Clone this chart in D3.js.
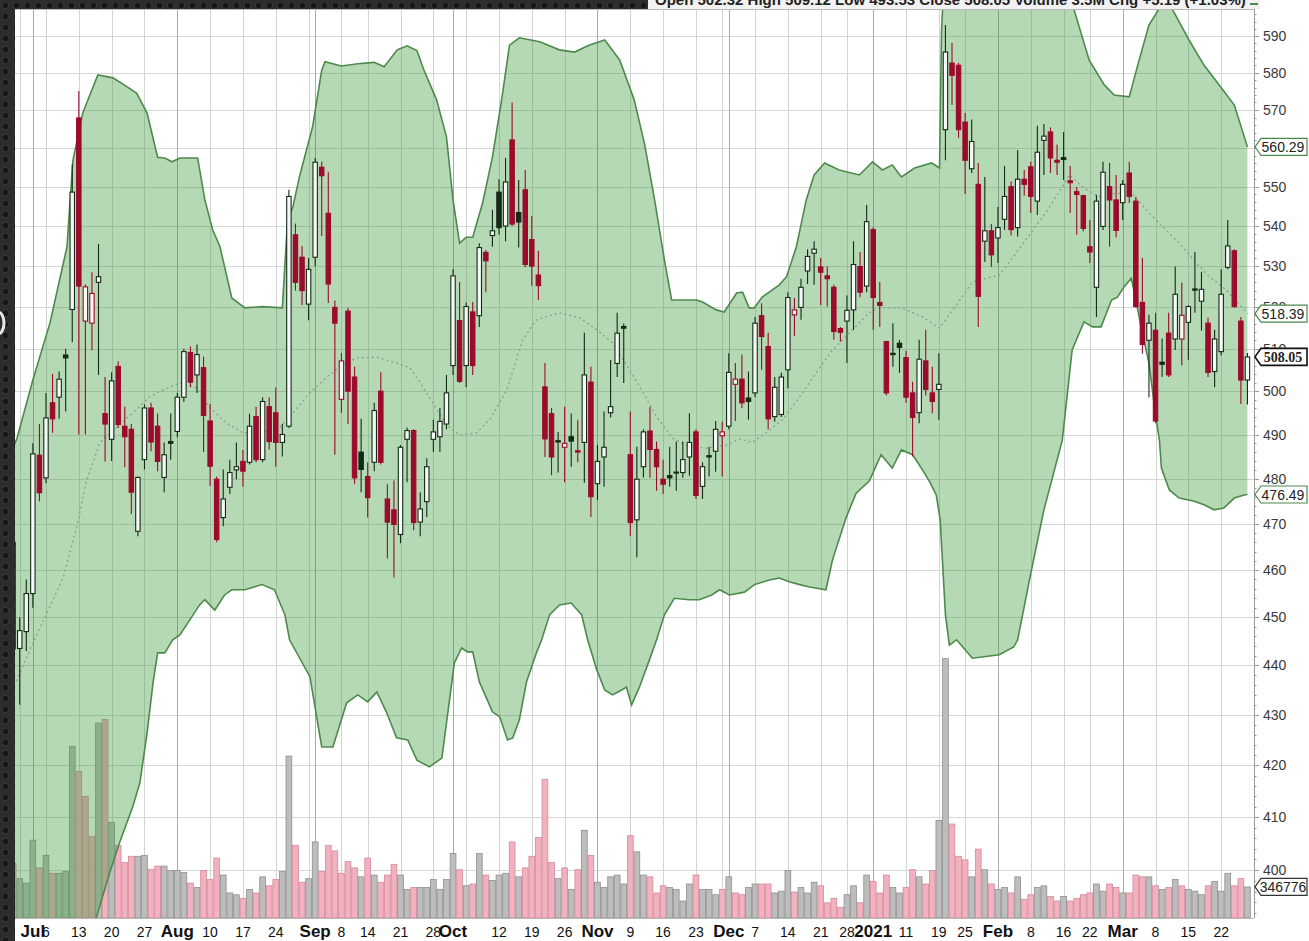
<!DOCTYPE html>
<html>
<head>
<meta charset="utf-8">
<script src="https://cdn.jsdelivr.net/npm/d3@7"></script>
<style>
  html, body { margin: 0; padding: 0; background: #2a2a2a; overflow: hidden; }
  svg { display: block; }
</style>
</head>
<body>
<svg id="chart" width="1309" height="941"></svg>
<script>
// ---- data (NFLX daily, Jun 26 2020 - Mar 26 2021) ----
const holidays = ['2020-07-03', '2020-09-07', '2020-11-26', '2020-12-25', '2021-01-01', '2021-01-18', '2021-02-15'];
const firstDay = '2020-06-26', lastDay = '2021-03-26';
const priorClose = 466.3;

const opens = [
  466, 443.5, 447,
  455, 485.3, 480.2, 497.3, 498.6, 508.5, 519.4, 567.9, 516.6, 516.1,
  526.0, 494.8, 488.9, 505.8, 491.9, 491.2, 468.4, 484.3, 496.1, 491.9,
  480.3, 488.4, 490.7, 498.6, 509.1, 503.8, 505.5, 493.1, 479.9, 471.4,
  478.1, 482.0, 483.9, 483.7, 494.1, 484.3, 496.4, 495.0, 488.2, 491.9,
  537.8, 532.2, 520.7, 532.2, 555.0, 543.2, 519.9, 498.1, 519.0, 503.3,
  486.0, 480.5, 483.7, 500.0, 475.5, 473.1, 467.7, 488.9, 490.9, 470.4,
  474.9, 488.9, 489.5, 492.4, 506.0, 516.7, 506.0, 518.8, 517.9, 533.4,
  537.6, 548.6, 540.0, 562.1, 543.4, 549.2, 536.6, 527.8, 501.0, 494.8,
  488.6, 487.1, 489.5, 486.3, 488.2, 502.1, 478.9, 484.9, 495.0, 506.5,
  515.3, 485.4, 470.9, 482.7, 490.8, 486.6, 479.9, 480.7, 481.5, 481.4,
  484.9, 490.6, 478.3, 485.2, 486.2, 489.7, 491.9, 501.6, 502.8, 498.4,
  499.6, 517.9, 510.5, 494.1, 494.6, 505.0, 518.1, 519.9, 528.8, 533.2,
  529.8, 527.6, 524.8, 514.8, 516.6, 519.3, 529.9, 525.1, 539.1, 521.1,
  511.7, 508.9, 511.3, 507.9, 499.6, 495.0, 507.1, 499.6, 500.4, 564.8,
  582.6, 582.0, 566.8, 554.6, 550.6, 536.2, 538.8, 537.0, 541.7, 550.0,
  539.6, 551.9, 555.1, 546.3, 562.0, 564.2, 556.8, 557.5, 551.5, 548.7,
  547.7, 534.8, 524.8, 539.9, 550.0, 546.6, 545.9, 553.5, 546.3, 521.1,
  512.0, 514.4, 506.8, 513.7, 512.3, 512.3, 516.3, 524.4, 521.4, 516.1,
  504.6, 509.3, 529.7, 533.8, 516.6, 502.6
];
const highs = [
  468, 450, 458,
  488, 492.4, 499.6, 504, 504.6, 510, 555.7, 575.1, 525.5, 528.5,
  535.5, 503.3, 504.4, 507, 496.4, 492.4, 480.5, 496.9, 497.3, 494.8,
  488.2, 494.8, 499.6, 510, 510.5, 511, 508.1, 497, 480.5, 482.1,
  484.3, 488.2, 486.5, 494.8, 496.4, 498.5, 498.6, 500.9, 492.4, 549.2,
  540.6, 535, 532, 557.4, 556.5, 553.7, 521.6, 509, 519.8, 505.7,
  493.6, 483.7, 497.3, 504.4, 478.8, 479.6, 487.6, 491.6, 491.2, 477.0,
  484.6, 493.4, 496.1, 503.8, 529.2, 526.1, 521.1, 521.2, 535.7, 534.0,
  544.1, 551.9, 557.4, 572.0, 551.7, 554.3, 542.5, 533.8, 506.6, 496.1,
  490.6, 496.4, 494.8, 493.4, 513.8, 505.7, 487.6, 495.3, 507.3, 518.6,
  516.0, 495.3, 487.2, 491.2, 496.3, 488.4, 484.3, 487.2, 488.4, 488.4,
  494.9, 491.2, 483.7, 487.2, 493.1, 492.9, 508.9, 506.6, 508.6, 504.6,
  517.6, 520.9, 513.8, 503.3, 504.3, 523.6, 522.2, 526.9, 534.2, 536.2,
  532.0, 529.9, 525.4, 515.2, 522.8, 536.2, 533.5, 545.3, 539.6, 526.1,
  511.9, 516.1, 512.1, 509.5, 502.2, 512.1, 514.5, 505.7, 508.9, 593.0,
  588.1, 582.6, 569.2, 567.5, 556.1, 552.5, 540.5, 544.8, 555.3, 551.3,
  559.5, 554.3, 556.4, 565.8, 566.3, 565.4, 560.9, 564.2, 555.3, 550.0,
  547.9, 541.5, 547.9, 556.4, 556.1, 553.0, 551.7, 556.4, 547.4, 532.0,
  518.1, 518.6, 512.4, 518.6, 529.9, 525.9, 520.5, 533.5, 528.6, 517.4,
  514.5, 529.2, 541.5, 534.2, 517.6, 509.0
];
const lows = [
  441, 432, 443,
  452, 475, 479, 490.4, 493.6, 495.3, 511.5, 490, 490, 509.6,
  503.8, 483.9, 484, 491.5, 482.6, 472.2, 467.3, 482.1, 486.2, 481.7,
  477, 484.3, 489.4, 497.5, 500.9, 499.6, 486, 478.4, 466, 469.5,
  476.6, 479.9, 478.2, 483.2, 483.7, 483.7, 486.6, 482.7, 485.0, 491.5,
  524, 520.5, 516.8, 530, 537.5, 521, 485.4, 495, 492.4, 478.9,
  477, 471.4, 481.7, 483.2, 462.5, 458.4, 465.8, 479.2, 468.6, 467.3,
  471.5, 486, 486.0, 491.2, 503.8, 501.9, 500.9, 503.8, 515.2, 523.6,
  534.8, 537.8, 536.2, 540.0, 534.6, 529.7, 525.2, 521.7, 484.9, 480.8,
  481.4, 479.2, 482.7, 483.7, 479.1, 471.5, 475.3, 478.2, 493.9, 503.3,
  501.9, 467.3, 462.7, 480.3, 480.2, 477.3, 476.6, 478.2, 477.3, 480.2,
  480.7, 475.5, 475.5, 480.5, 481.6, 480.5, 491.2, 493.1, 496.1, 493.4,
  498.6, 505.0, 491.2, 492.9, 494.0, 500.7, 513.1, 516.9, 525.6, 525.4,
  520.5, 520.1, 512.1, 511.7, 506.6, 514.5, 522.4, 523.6, 514.5, 515.2,
  499.0, 505.7, 504.3, 497.3, 485.0, 492.6, 499.0, 494.9, 493.4, 556.8,
  571.3, 562.7, 548.1, 553.5, 515.2, 531.0, 529.8, 530.8, 539.0, 537.6,
  537.4, 547.7, 543.3, 542.8, 553.0, 553.5, 553.0, 551.7, 543.3, 537.8,
  538.6, 530.8, 517.6, 539.0, 534.8, 537.2, 541.5, 545.8, 519.8, 508.8,
  498.6, 492.6, 503.3, 503.3, 509.7, 506.1, 507.4, 518.6, 514.3, 503.3,
  500.9, 508.4, 529.2, 519.8, 497.0, 496.9
];
const closes = [
  443.4, 447.2, 455.0,
  485.6, 476.9, 493.8, 493.6, 502.8, 507.8, 548.6, 525.1, 524.9, 523.3,
  527.4, 492.4, 502.4, 492.3, 489.5, 477.0, 480.3, 496.1, 488.3, 483.9,
  485.4, 488.0, 498.6, 509.3, 502.1, 508.6, 494.4, 482.8, 466.6, 475.5,
  481.4, 482.7, 481.7, 491.9, 484.3, 497.6, 488.4, 488.2, 490.0, 547.5,
  526.0, 524.0, 529.2, 556.3, 552.8, 525.6, 516.1, 507.1, 500.0, 480.2,
  482.1, 475.8, 495.5, 483.7, 470.4, 469.9, 487.1, 490.9, 470.3, 473.3,
  482.7, 490.6, 493.0, 499.6, 527.6, 502.3, 520.1, 506.0, 534.6, 531.3,
  538.8, 539.6, 551.2, 540.5, 541.0, 530.4, 530.0, 525.2, 489.0, 484.9,
  488.3, 488.0, 488.5, 486.0, 503.8, 476.0, 483.9, 487.1, 496.4, 513.7,
  514.9, 470.3, 479.9, 490.6, 486.6, 482.7, 478.8, 480.2, 481.3, 484.3,
  488.2, 476.3, 482.7, 484.9, 491.2, 490.6, 504.4, 502.8, 497.3, 497.6,
  516.1, 512.9, 493.6, 500.9, 503.3, 522.3, 519.3, 524.8, 532.4, 534.2,
  528.5, 526.9, 514.1, 513.9, 519.2, 530.4, 523.6, 541.1, 522.3, 520.4,
  499.6, 508.6, 510.3, 498.6, 493.9, 507.5, 500.4, 497.6, 501.6, 585.6,
  579.3, 564.8, 556.8, 561.7, 522.6, 538.8, 532.8, 539.6, 547.5, 539.1,
  551.9, 550.6, 547.5, 558.9, 563.1, 557.4, 556.3, 557.0, 551.0, 548.0,
  539.4, 533.5, 546.3, 553.7, 546.6, 538.9, 550.6, 547.5, 520.1, 511.0,
  516.1, 493.1, 506.3, 503.8, 523.1, 518.0, 520.1, 524.1, 524.3, 504.4,
  512.3, 523.1, 535.0, 520.1, 502.6, 508.05
];
// volume in millions of shares
const volumes = [
  6.1, 4.4, 3.9,
  8.7, 5.6, 7.0, 5.0, 5.0, 5.2, 19.2, 16.4, 13.6, 9.1,
  21.8, 22.2, 10.7, 8.1, 6.2, 6.9, 6.9, 7.0, 5.4, 5.8,
  5.8, 5.3, 5.3, 5.1, 3.9, 3.4, 5.3, 4.3, 6.7, 4.8,
  2.8, 2.6, 2.2, 3.2, 2.8, 4.6, 3.6, 4.3, 5.2, 18.1,
  8.1, 4.0, 4.4, 8.5, 5.2, 8.1, 7.5, 5.0, 6.3, 5.6,
  4.6, 6.7, 4.8, 4.0, 4.8, 6.0, 4.8, 3.2, 3.4, 3.4,
  3.4, 4.3, 3.2, 4.3, 7.2, 5.4, 3.6, 3.8, 7.2, 4.8,
  4.2, 4.8, 5.0, 8.5, 4.6, 5.6, 6.9, 9.0, 15.5, 6.2,
  4.4, 5.6, 3.2, 5.4, 9.8, 7.0, 4.0, 3.4, 4.6, 4.8,
  3.8, 9.2, 7.4, 4.8, 4.6, 2.8, 3.6, 3.4, 3.2, 1.9,
  3.8, 4.8, 3.2, 3.2, 2.6, 3.2, 4.6, 2.8, 2.6, 3.4,
  3.8, 3.8, 3.8, 2.8, 3.0, 5.3, 2.9, 3.4, 2.8, 4.0,
  3.6, 1.7, 2.2, 1.2, 2.6, 3.6, 1.7, 4.8, 4.1, 2.8,
  4.8, 3.4, 2.8, 3.4, 5.4, 4.6, 3.8, 5.3, 10.9, 29.0,
  10.5, 6.9, 6.5, 4.6, 7.7, 5.4, 3.8, 3.2, 3.4, 2.8,
  4.6, 2.1, 2.6, 3.4, 3.6, 2.4, 1.9, 2.4, 1.9, 2.2,
  2.6, 2.8, 3.8, 3.0, 3.8, 3.4, 2.8, 2.8, 4.8, 4.6,
  4.6, 3.6, 3.2, 3.4, 4.3, 3.6, 3.2, 3.0, 2.6, 3.6,
  4.1, 3.0, 5.0, 3.6, 4.4, 3.47
];

// Bollinger bands (20, 2) as [sessions since Jul 1, price]
const upperBand = [
  [-3, 487], [-2.4, 489.2], [0, 502.6], [2.6, 516.1], [5.2, 534.8], [6.1, 556.8], [7.6, 569.2],
  [9.9, 579.4], [12.2, 578.6], [13.2, 577.5], [15.8, 574.5], [17.4, 569.2], [19, 557.6], [20.1, 557.4],
  [21.2, 556.4], [22.4, 557.4], [25.1, 557.4], [26.2, 546.6], [27.4, 539.0], [28.5, 534.8], [30.3, 522.2],
  [32.3, 519.8], [35, 520.1], [38, 519.8], [38.8, 541.5], [39.6, 544.8], [40.6, 552.5], [42.6, 565.5],
  [44, 580.7], [44.5, 583], [47, 581.8], [49.5, 582.4], [52, 582.8], [53.5, 581.6], [55.5, 586.2],
  [57, 587.3], [58.5, 586], [59.5, 581], [61.5, 572.7], [63, 562.9], [64, 546.6], [65, 535.7],
  [66, 537.2], [67, 537.2], [68.5, 545.8], [70, 557.6], [71.4, 572.7], [72.6, 587.5], [74.1, 589.5],
  [77.2, 588.4], [80.2, 586.2], [82.5, 585.6], [84.8, 587.5], [87.1, 588.9], [89.4, 583.4], [91.6, 572.7],
  [93.2, 560.8], [94.7, 546.6], [96.2, 531.5], [97.3, 521.7], [101.1, 521.7], [102, 521.2], [104.1, 519.3],
  [105.3, 518.8], [107.2, 523.4], [108.1, 523.6], [109.1, 519.8], [109.9, 519.8], [111.1, 522.4],
  [113.7, 525.4], [114.8, 527.4], [116.3, 534.8], [117.8, 546.6], [119, 553.0], [120.6, 556.1],
  [122.8, 554.3], [125.9, 553.0], [127.9, 556.4], [129.4, 554.3], [130.9, 555.6], [132.3, 552.5],
  [134.3, 554.8], [136.9, 556.1], [138.1, 554.8], [138.4, 591], [139, 615], [158, 615], [158.6, 597.2],
  [160.9, 583.4], [163.2, 576.7], [164.7, 574.0], [167, 573.5], [168.5, 583.4], [170, 593], [171.6, 597.7],
  [172.3, 601], [173.8, 596.6], [176.1, 588.9], [178.4, 582], [180.7, 576.7], [183, 571.3], [185, 560.29]
];
const lowerBand = [
  [-3, 350], [4, 372], [9.7, 391.4], [11.7, 399.5], [13.2, 405.1], [15.2, 411.9], [16.3, 416.6],
  [17.4, 426.4], [18.3, 436.4], [19, 442.6], [20.1, 442.6], [21.3, 445.3], [22.4, 446.3], [25.4, 452.6],
  [26.2, 453.7], [27.7, 451.5], [29.2, 454.7], [30.3, 455.8], [32.3, 455.8], [34.9, 456.9], [36.8, 455.8],
  [38.4, 450.5], [39.1, 445.3], [42.2, 437.7], [44, 423.6], [45.7, 423.6], [47.8, 432.4], [49.5, 434.0],
  [51, 432.6], [52.4, 434.6], [53.9, 430.4], [55.4, 425.4], [57.1, 425.0], [58.5, 421.0], [60.4, 419.7],
  [62.3, 421.4], [64.2, 440.5], [65.3, 443.6], [66.2, 442.8], [67, 442.8], [68, 436.7], [70, 430.6],
  [71.1, 429.6], [72.3, 425.0], [73.1, 425.4], [74.1, 429.0], [75.2, 436.7], [76.7, 442.6], [77.5, 445.3],
  [78.7, 450.5], [80.2, 452.6], [82, 453.0], [83.6, 450.5], [84.5, 445.3], [85.9, 439.1], [87.1, 435.0],
  [88.3, 434.0], [89.7, 435.0], [90.4, 435.6], [91.2, 432.0], [92.4, 435.6], [93.9, 441.1], [95, 445.3],
  [96.2, 450.5], [97.7, 454.0], [100, 453.7], [101.5, 453.7], [103.4, 454.7], [104.6, 455.8], [106.1, 454.7],
  [108.4, 455.3], [109.9, 456.9], [112.2, 457.9], [113.7, 458.3], [115.2, 457.5], [116.8, 456.9],
  [118.3, 456.4], [120.8, 455.8], [121.8, 462.2], [123.9, 471.5], [125.4, 476.8], [127.4, 479.5],
  [129.2, 485.4], [130.9, 482.4], [132.3, 486.5], [134, 485.4], [135.5, 482.0], [136.6, 479.3],
  [137.6, 476.4], [138.2, 470.9], [139, 450.5], [139.6, 444.2], [140.7, 445.3], [143.1, 441.5],
  [147.2, 442.2], [149.4, 443.8], [150, 445.3], [151.8, 457.9], [154, 473.1], [156.8, 488.7], [158.3, 509.7],
  [160.1, 516.4], [161.4, 515.2], [162.7, 515.2], [164.3, 521.7], [165.2, 522.4], [166.2, 524.9],
  [167.3, 527.0], [167.8, 523.4], [168.8, 515.2], [170, 506.6], [171.1, 493.4], [171.6, 488.7],
  [171.9, 482.4], [173.1, 477.5], [174.6, 475.7], [176.9, 475.0], [178.4, 474.2], [179.9, 473.1],
  [181.4, 473.5], [183, 475.7], [184.5, 476.4], [185, 476.49]
];
const midBand = [
  [-3, 436], [-2.4, 437.1], [0, 444.6], [4.6, 458.3], [6.7, 469.4], [8.2, 479.7], [10.2, 488.1],
  [12.8, 491.7], [15.2, 494.9], [17.8, 498.7], [19.8, 500.3], [22.4, 501.9], [25, 500.7], [26.9, 496.3],
  [29.5, 492.6], [32, 490.4], [35, 490.4], [37.6, 491.7], [39.6, 494.9], [42.2, 499.6], [44.8, 503.3],
  [46.7, 505.7], [49.3, 507.8], [52.4, 508.0], [55.4, 506.6], [57.4, 505.5], [58.9, 502.2], [60.9, 497.3],
  [63, 492.2], [65, 489.9], [67.6, 490.4], [69.6, 493.4], [72.2, 500.3], [74.6, 512.1], [76.7, 516.9],
  [80.2, 518.6], [83.3, 517.4], [85.9, 514.5], [88.3, 511.4], [90.9, 505.0], [92.9, 499.8], [95, 494.1],
  [97.4, 489.2], [100, 487.2], [102.6, 486.9], [105.6, 487.6], [107.6, 489.0], [109.6, 488.2],
  [111.7, 490.4], [114.2, 493.4], [116.8, 498.7], [119.3, 504.3], [121.8, 509.7], [124.4, 513.8],
  [127.4, 518.6], [129, 519.8], [132.4, 519.8], [135.5, 517.6], [138.1, 514.9], [140.7, 520.5],
  [143.1, 526.1], [145.2, 527.0], [147.2, 527.8], [149.2, 532.0], [151.8, 537.8], [154.4, 543.6],
  [156.3, 548.6], [157.9, 553.0], [159.8, 550.0], [162.4, 547.4], [165, 548.3], [167.4, 548.3],
  [170, 543.3], [172.6, 539.0], [175.1, 534.8], [177.2, 530.8], [179.2, 527.4], [181.8, 524.1], [185, 518.39]
];

const priceTicks = [400, 410, 420, 430, 440, 450, 460, 470, 480, 490, 500, 510, 520, 530, 540, 550, 560, 570, 580, 590];
const dateLabels = [
  ['2020-07-01', 'Jul', true], ['2020-07-06', '6'], ['2020-07-13', '13'], ['2020-07-20', '20'], ['2020-07-27', '27'],
  ['2020-08-03', 'Aug', true], ['2020-08-10', '10'], ['2020-08-17', '17'], ['2020-08-24', '24'],
  ['2020-09-01', 'Sep', true], ['2020-09-08', '8'], ['2020-09-14', '14'], ['2020-09-21', '21'], ['2020-09-28', '28'],
  ['2020-10-01', 'Oct', true], ['2020-10-12', '12'], ['2020-10-19', '19'], ['2020-10-26', '26'],
  ['2020-11-02', 'Nov', true], ['2020-11-09', '9'], ['2020-11-16', '16'], ['2020-11-23', '23'],
  ['2020-12-01', 'Dec', true], ['2020-12-07', '7'], ['2020-12-14', '14'], ['2020-12-21', '21'], ['2020-12-28', '28'],
  ['2021-01-04', '2021', true], ['2021-01-11', '11'], ['2021-01-19', '19'], ['2021-01-25', '25'],
  ['2021-02-01', 'Feb', true], ['2021-02-08', '8'], ['2021-02-16', '16'], ['2021-02-22', '22'],
  ['2021-03-01', 'Mar', true], ['2021-03-08', '8'], ['2021-03-15', '15'], ['2021-03-22', '22']
];
const priceTags = [
  { value: 560.29, text: '560.29', kind: 'band' },
  { value: 518.39, text: '518.39', kind: 'band' },
  { value: 508.05, text: '508.05', kind: 'close' },
  { value: 476.49, text: '476.49', kind: 'band' }
];
const volumeTag = { value: 3.47, text: '346776' };
const headerText = 'Open 502.32  High 509.12  Low 493.53  Close 508.05  Volume 3.5M  Chg +5.19 (+1.03%)';

// ---- setup ----
const W = 1309, H = 941;
const plot = { left: 15, right: 1254, top: 9, bottom: 918 };
const RED = '#9c0a2c', DARK = '#142a17', HOLLOW = '#f5f8f5';
const NARROW = "'Liberation Sans Narrow','Arial Narrow','Liberation Sans',Arial,sans-serif";

const fmt = d3.utcFormat('%Y-%m-%d');
const dates = d3.utcDays(new Date(firstDay), d3.utcDay.offset(new Date(lastDay), 1))
  .filter(d => d.getUTCDay() % 6 !== 0 && !holidays.includes(fmt(d)))
  .map(fmt);
const offset = dates.indexOf('2020-07-01');

const x = d3.scaleLinear().domain([-2.72, 186]).range([plot.left, plot.right]);
const y = d3.scaleLog().domain([400, 590]).range([870, 36]);
const yVol = d3.scaleLinear().domain([0, 36]).range([plot.bottom, plot.bottom - 322]);
const slot = x(1) - x(0);

const bars = dates.map((d, i) => ({
  date: d, s: i - offset,
  o: opens[i], h: highs[i], l: lows[i], c: closes[i], v: volumes[i],
  prev: i > 0 ? closes[i - 1] : priorClose
}));

const svg = d3.select('#chart');
const defs = svg.append('defs');
defs.append('clipPath').attr('id', 'clip')
  .append('rect')
  .attr('x', plot.left).attr('y', plot.top)
  .attr('width', plot.right - plot.left).attr('height', plot.bottom - plot.top);

const dots = defs.append('pattern').attr('id', 'dots')
  .attr('patternUnits', 'userSpaceOnUse').attr('width', 11).attr('height', 11);
dots.append('rect').attr('width', 11).attr('height', 11).attr('fill', '#2c2c2c');
dots.append('circle').attr('cx', 5.5).attr('cy', 5.5).attr('r', 3.4)
  .attr('fill', '#171717').attr('stroke', '#3e3e3e').attr('stroke-width', 0.8);

svg.append('rect').attr('width', W).attr('height', H).attr('fill', '#fff');

// grid
const grid = svg.append('g');
grid.selectAll('line.h').data(priceTicks).enter().append('line')
  .attr('x1', plot.left).attr('x2', plot.right)
  .attr('y1', d => Math.round(y(d)) + 0.5).attr('y2', d => Math.round(y(d)) + 0.5)
  .attr('stroke', '#d6d6d6');

const vLines = bars.filter((b, i) => i > 0).map(b => {
  const i = dates.indexOf(b.date);
  const pd = new Date(dates[i - 1]), cd = new Date(b.date);
  const newMonth = pd.getUTCMonth() !== cd.getUTCMonth();
  const newWeek = cd.getUTCDay() < pd.getUTCDay() || (cd - pd) > 4 * 864e5;
  return { s: b.s, month: newMonth, week: newWeek };
}).filter(d => d.month || d.week);

grid.selectAll('line.v').data(vLines).enter().append('line')
  .attr('x1', d => Math.round(x(d.s)) + 0.5).attr('x2', d => Math.round(x(d.s)) + 0.5)
  .attr('y1', plot.top).attr('y2', plot.bottom)
  .attr('stroke', d => d.month ? '#a9a9a9' : '#d3d3d3');

const chart = svg.append('g').attr('clip-path', 'url(#clip)');

// volume
chart.append('g').selectAll('rect').data(bars).enter().append('rect')
  .attr('x', d => x(d.s) - slot / 2 + 0.4)
  .attr('width', slot - 0.8)
  .attr('y', d => yVol(d.v))
  .attr('height', d => plot.bottom - yVol(d.v))
  .attr('fill', d => d.c < d.prev ? '#f1b1be' : '#bdbdbd')
  .attr('stroke', d => d.c < d.prev ? '#d5899a' : '#8f8f8f')
  .attr('stroke-width', 0.8);

// bollinger band
const line = d3.line().x(d => x(d[0])).y(d => y(d[1]));
chart.append('path')
  .attr('d', line(upperBand.concat(lowerBand.slice().reverse())) + 'Z')
  .attr('fill', '#3d9b3d').attr('fill-opacity', 0.38);
chart.selectAll('path.edge').data([upperBand, lowerBand]).enter().append('path')
  .attr('d', line).attr('fill', 'none')
  .attr('stroke', '#4c8a4c').attr('stroke-width', 1.6);
chart.append('path')
  .attr('d', line(midBand)).attr('fill', 'none')
  .attr('stroke', '#8c9c8c').attr('stroke-width', 1.3).attr('stroke-dasharray', '2,3');

// candles
const bw = 4.4;
const candle = chart.append('g').selectAll('g').data(bars).enter().append('g');
candle.append('line')
  .attr('x1', d => x(d.s)).attr('x2', d => x(d.s))
  .attr('y1', d => y(d.h)).attr('y2', d => y(d.l))
  .attr('stroke', d => d.c < d.prev ? RED : DARK).attr('stroke-width', 1.1);
candle.append('rect')
  .attr('x', d => x(d.s) - bw / 2).attr('width', bw)
  .attr('y', d => y(Math.max(d.o, d.c)))
  .attr('height', d => Math.max(1, Math.abs(y(d.o) - y(d.c))))
  .attr('fill', d => d.c < d.o ? (d.c < d.prev ? RED : DARK) : HOLLOW)
  .attr('stroke', d => d.c < d.prev ? RED : DARK).attr('stroke-width', 1.1);

// right axis
const axis = svg.append('g');
axis.append('line').attr('x1', plot.right + 0.5).attr('x2', plot.right + 0.5)
  .attr('y1', plot.top).attr('y2', plot.bottom).attr('stroke', '#9a9a9a');
axis.selectAll('line.minor').data(d3.range(392, 598, 2)).enter().append('line')
  .attr('x1', plot.right).attr('x2', d => plot.right + (d % 10 === 0 ? 5 : 2.5))
  .attr('y1', d => Math.round(y(d)) + 0.5).attr('y2', d => Math.round(y(d)) + 0.5)
  .attr('stroke', '#9a9a9a');
// labels sitting right under a tag are hidden by it, as in the original
const shownTicks = priceTicks.filter(v => !priceTags.some(t => Math.abs(y(t.value) - y(v)) < 4));
axis.selectAll('text').data(shownTicks).enter().append('text')
  .attr('x', 1263).attr('y', d => y(d) + 5)
  .attr('font-family', NARROW).attr('font-size', 14).attr('fill', '#3a3a3a')
  .text(d => d);
svg.append('line').attr('x1', plot.left).attr('x2', plot.right)
  .attr('y1', plot.top + 0.5).attr('y2', plot.top + 0.5).attr('stroke', '#b8b8b8');
svg.append('line').attr('x1', plot.left).attr('x2', plot.right)
  .attr('y1', plot.bottom + 0.5).attr('y2', plot.bottom + 0.5).attr('stroke', '#b8b8b8');

function tag(yPos, text, stroke, bold) {
  const g = svg.append('g');
  g.append('path')
    .attr('d', `M${plot.right + 1},${yPos} L${plot.right + 7},${yPos - 8.5} L1307,${yPos - 8.5} L1307,${yPos + 8.5} L${plot.right + 7},${yPos + 8.5} Z`)
    .attr('fill', '#fff').attr('stroke', stroke).attr('stroke-width', bold ? 1.6 : 1.2);
  g.append('text').attr('x', 1283).attr('y', yPos + 5)
    .attr('text-anchor', 'middle')
    .attr('font-family', bold ? "'Liberation Serif','DejaVu Serif',serif" : NARROW)
    .attr('font-weight', bold ? 'bold' : 'normal')
    .attr('font-size', 14).attr('fill', '#222')
    .text(text);
}
priceTags.forEach(t => tag(y(t.value), t.text, t.kind === 'close' ? '#111' : '#4c8a4c', t.kind === 'close'));
tag(yVol(volumeTag.value), volumeTag.text, '#333', false);

// bottom date labels
svg.append('g').selectAll('text').data(dateLabels).enter().append('text')
  .attr('x', d => x(dates.indexOf(d[0]) - offset))
  .attr('y', 937)
  .attr('text-anchor', 'middle')
  .attr('font-family', NARROW)
  .attr('font-weight', d => d[2] ? 'bold' : 'normal')
  .attr('font-size', d => d[2] ? 17 : 14)
  .attr('fill', '#111')
  .text(d => d[1]);

// surrounding slide background
svg.append('rect').attr('x', 0).attr('y', 0).attr('width', plot.left).attr('height', H).attr('fill', 'url(#dots)');
svg.append('rect').attr('x', 0).attr('y', 0).attr('width', 648).attr('height', plot.top).attr('fill', 'url(#dots)');
svg.append('ellipse').attr('cx', -2).attr('cy', 323).attr('rx', 6).attr('ry', 11)
  .attr('fill', 'none').attr('stroke', '#e6e6e6').attr('stroke-width', 3);
svg.append('rect').attr('x', 648).attr('y', 0).attr('width', plot.right - 648 + 6).attr('height', plot.top)
  .attr('fill', '#f2f2f2');
svg.append('text').attr('x', 655).attr('y', 5)
  .attr('font-family', NARROW).attr('font-weight', 'bold').attr('font-size', 15).attr('fill', '#222')
  .text(headerText);
svg.append('line').attr('x1', 1250).attr('x2', 1258).attr('y1', 4).attr('y2', 4)
  .attr('stroke', '#4c8a4c').attr('stroke-width', 2);
</script>
</body>
</html>
